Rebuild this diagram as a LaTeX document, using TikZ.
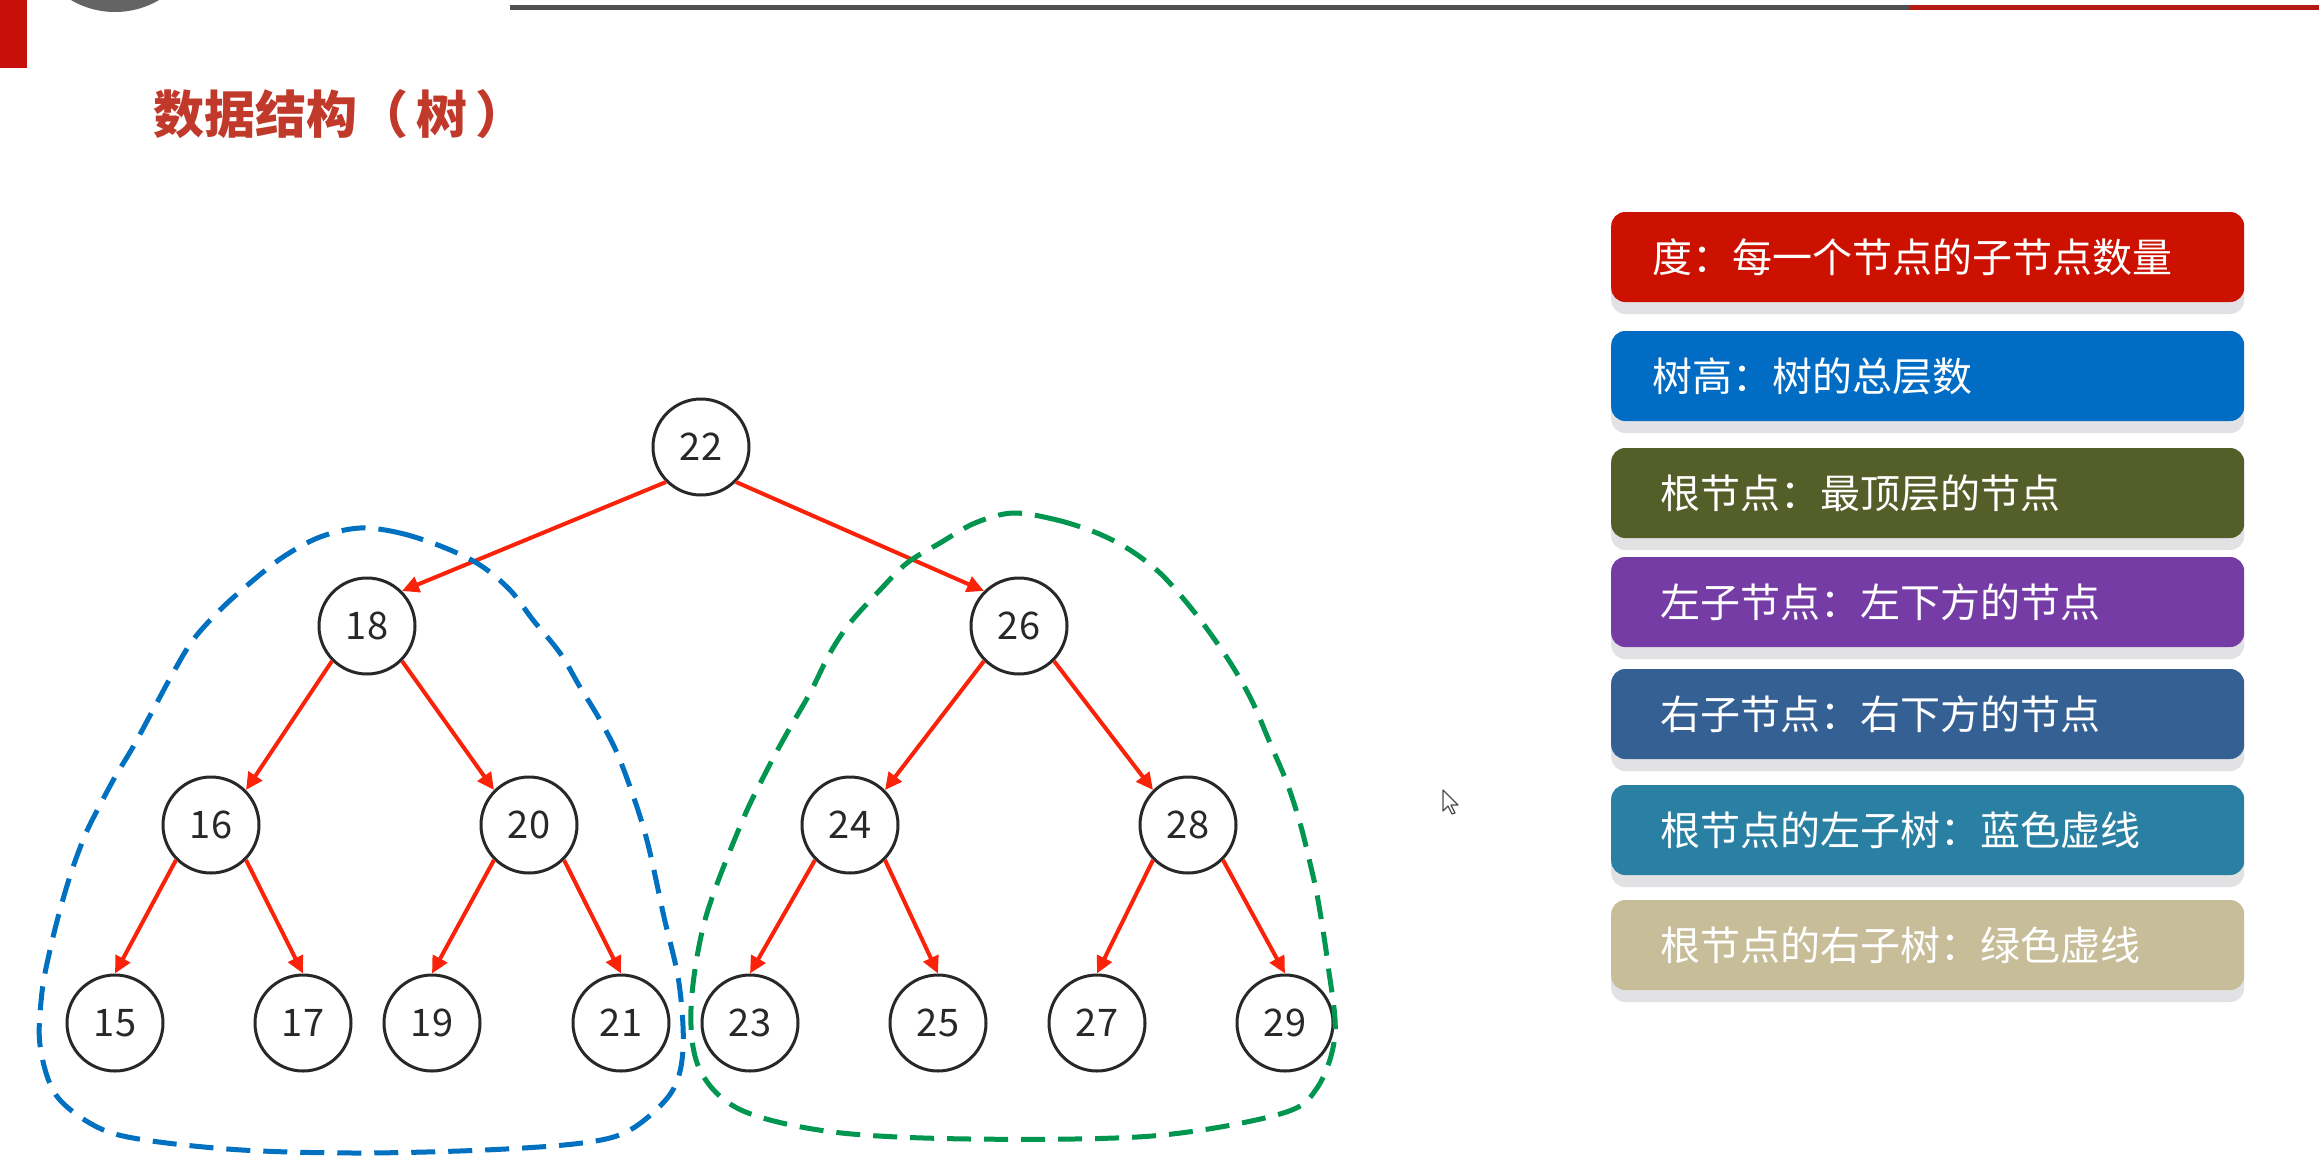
\documentclass[tikz,border=0pt]{standalone}
\usepackage{fontspec}
\setmainfont{Noto Sans CJK SC}
\usetikzlibrary{arrows.meta,shadows}
\definecolor{titlered}{RGB}{192,57,43}
\definecolor{decored}{RGB}{200,16,10}
\definecolor{decogray}{RGB}{100,100,100}
\definecolor{linegray}{RGB}{80,80,80}
\definecolor{linered}{RGB}{180,25,20}
\definecolor{arrowred}{RGB}{250,35,10}
\definecolor{dashblue}{RGB}{0,112,192}
\definecolor{dashgreen}{RGB}{0,150,80}
\definecolor{nodeink}{RGB}{40,40,40}
\definecolor{shadowgray}{RGB}{226,226,228}
\definecolor{cA}{RGB}{204,17,0}
\definecolor{cB}{RGB}{0,108,196}
\definecolor{cC}{RGB}{84,94,40}
\definecolor{cD}{RGB}{117,60,165}
\definecolor{cE}{RGB}{52,96,148}
\definecolor{cF}{RGB}{41,128,163}
\definecolor{cG}{RGB}{199,189,152}
\begin{document}
\begin{tikzpicture}[x=1pt,y=-1pt,
  tn/.style={circle, draw=nodeink, line width=3pt, minimum size=96pt, inner sep=0pt,
    fill=white, text=nodeink, font=\fontsize{38}{40}\selectfont},
  edge/.style={draw=arrowred, line width=4pt, -{Triangle[length=17pt,width=16pt]}},
  lbox/.style={rounded corners=14pt, minimum height=90pt, text=white, anchor=west,
    font=\fontsize{40}{44}\selectfont, align=left,
    general shadow={fill=shadowgray, shadow yshift=-12pt}},
  padA/.style={inner xsep=41pt, text width=551pt},
  padB/.style={inner xsep=49pt, text width=535pt},
  subtree/.style={line width=5pt, dash pattern=on 24pt off 13pt}
]
\useasboundingbox (0,0) rectangle (2319,1170);
\fill[white] (0,0) rectangle (2319,1170);
\begin{scope}
\clip (0,0) rectangle (2319,1170);
\fill[decogray] (115,-75) circle (87pt);
\end{scope}
\fill[decored] (0,0) rectangle (27,68);
\fill[linegray] (510,4.5) rectangle (1909,10);
\fill[linered] (1909,4.5) rectangle (2319,10);

\node[anchor=west, text=titlered, font=\fontsize{51}{56}\selectfont\bfseries] (title) at (150,114) {数据结构（\hspace{8pt}树\hspace{8pt}）};

% tree nodes
\node[tn] (n22) at (701,447) {22};
\node[tn] (n18) at (367,626) {18};
\node[tn] (n26) at (1019,626) {26};
\node[tn] (n16) at (211,825) {16};
\node[tn] (n20) at (529,825) {20};
\node[tn] (n24) at (850,825) {24};
\node[tn] (n28) at (1188,825) {28};
\node[tn] (n15) at (115,1023) {15};
\node[tn] (n17) at (303,1023) {17};
\node[tn] (n19) at (432,1023) {19};
\node[tn] (n21) at (621,1023) {21};
\node[tn] (n23) at (750,1023) {23};
\node[tn] (n25) at (938,1023) {25};
\node[tn] (n27) at (1097,1023) {27};
\node[tn] (n29) at (1285,1023) {29};

% edges
\draw[edge] (n22.south west) -- (n18.north east);
\draw[edge] (n22.south east) -- (n26.north west);
\draw[edge] (n18.south west) -- (n16.north east);
\draw[edge] (n18.south east) -- (n20.north west);
\draw[edge] (n26.south west) -- (n24.north east);
\draw[edge] (n26.south east) -- (n28.north west);
\draw[edge] (n16.south west) -- (n15.north);
\draw[edge] (n16.south east) -- (n17.north);
\draw[edge] (n20.south west) -- (n19.north);
\draw[edge] (n20.south east) -- (n21.north);
\draw[edge] (n24.south west) -- (n23.north);
\draw[edge] (n24.south east) -- (n25.north);
\draw[edge] (n28.south west) -- (n27.north);
\draw[edge] (n28.south east) -- (n29.north);

% left subtree (blue dashed)
\draw[subtree, draw=dashblue] plot[smooth cycle, tension=0.55] coordinates {
 (360,528) (400,533) (443,547) (480,565) (510,590) (533,620) (560,653) (580,687)
 (600,720) (620,760) (645,833) (664,917) (679,983) (683,1050) (671,1093) (630,1130)
 (582,1143) (485,1150) (359,1153) (242,1150) (145,1140) (97,1127) (56,1095) (40,1045)
 (42,992) (50,950) (60,910) (72,870) (86,833) (100,805) (115,777) (133,747) (153,710)
 (173,673) (193,640) (220,610) (250,583) (283,557) (320,537)};

% right subtree (green dashed)
\draw[subtree, draw=dashgreen] plot[smooth cycle, tension=0.55] coordinates {
 (1013,513) (1057,520) (1097,533) (1130,550) (1160,573) (1187,603) (1210,633) (1233,667)
 (1253,703) (1270,743) (1287,783) (1300,823) (1310,863) (1318,900) (1328,965) (1335,1035)
 (1317,1088) (1280,1114) (1152,1136) (970,1139) (833,1132) (741,1110) (700,1070) (691,1009)
 (705,920) (741,824) (767,770) (787,733) (810,693) (830,653) (850,623) (880,590)
 (907,563) (940,543) (975,523)};

% legend
\node[lbox, padA, fill=cA] (l1) at (1611,257) {度：每一个节点的子节点数量};
\node[lbox, padA, fill=cB] (l2) at (1611,376) {树高：树的总层数};
\node[lbox, padB, fill=cC] (l3) at (1611,493) {根节点：最顶层的节点};
\node[lbox, padB, fill=cD] (l4) at (1611,602) {左子节点：左下方的节点};
\node[lbox, padB, fill=cE] (l5) at (1611,714) {右子节点：右下方的节点};
\node[lbox, padB, fill=cF] (l6) at (1611,830) {根节点的左子树：蓝色虚线};
\node[lbox, padB, fill=cG] (l7) at (1611,945) {根节点的右子树：绿色虚线};

% mouse pointer
\draw[black!70, line width=1.2pt, fill=white, line join=round]
  (1443,790) -- (1443,811) -- (1448,806) -- (1452,814) -- (1455,813) -- (1451,805) -- (1458,805) -- cycle;
\end{tikzpicture}
\end{document}
